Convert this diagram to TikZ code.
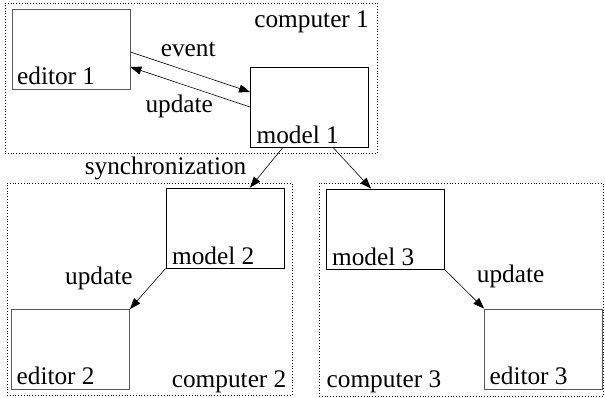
\documentclass[tikz,border=0pt]{standalone}
\usepackage{fontspec}
\setmainfont{Liberation Serif}
\usetikzlibrary{arrows.meta, positioning}

\begin{document}
\begin{tikzpicture}[x=1pt, y=-1pt, >={Triangle[length=11pt, width=8pt]},
        every node/.style={font=\fontsize{25.3}{30}\selectfont},
        editor/.style={rectangle, draw=black!65, line width=0.8pt, minimum width=118pt, minimum height=80pt,
            label={[anchor=base west, xshift=2pt, yshift=5pt]south west:#1}},
        model/.style={rectangle, draw, line width=0.8pt, minimum width=118pt, minimum height=80pt,
            label={[anchor=base west, xshift=3pt, yshift=4pt]south west:#1}},
        computer/.style={rectangle, draw, dotted, line width=0.8pt, inner sep=0pt},
        link/.style={->, line width=0.6pt}]

    \useasboundingbox (0,0) rectangle (605,398);

    % Computers (dotted frames)
    \node (comp1) [computer, minimum width=372pt, minimum height=150pt,
        label={[anchor=base east, xshift=-5pt, yshift=-25pt]north east:computer 1}] at (191,78) {};
    \node (comp2) [computer, minimum width=285pt, minimum height=212pt,
        label={[anchor=base east, xshift=-2.5pt, yshift=8pt]south east:computer 2}] at (149.5,289) {};
    \node (comp3) [computer, minimum width=284pt, minimum height=213pt,
        label={[anchor=base west, xshift=4.5pt, yshift=9pt]south west:computer 3}] at (461,289.5) {};

    % Editors and models
    \node (ed1) [editor=editor 1] at (71,49) {};
    \node (mod1) [model=model 1] at (309.5,107) {};
    \node (mod2) [model=model 2] at (225,228) {};
    \node (ed2) [editor=editor 2] at (70.5,349.5) {};
    \node (mod3) [model=model 3] at (385,229) {};
    \node (ed3) [editor=editor 3] at (543.5,349) {};

    % Inside computer 1
    \draw [link] ([yshift=-3pt]ed1.east) -- ([yshift=15pt]mod1.west)
        node[midway, anchor=base, xshift=-2pt, yshift=15pt] {event};
    \draw [link] (mod1.west) -- ([yshift=-18pt]ed1.east)
        node[midway, anchor=base, xshift=-11pt, yshift=-26pt] {update};

    % Synchronization between the models
    \draw [link] ([xshift=-26.5pt]mod1.south) -- ([xshift=25pt]mod2.north)
        node[midway, anchor=base east, xshift=-16.5pt, yshift=-7.5pt] {synchronization};
    \draw [link] ([xshift=23.5pt]mod1.south) -- ([xshift=-14pt]mod3.north);

    % Updates of the remote editors
    \draw [link] (mod2.south west) -- (ed2.north east)
        node[midway, anchor=base east, xshift=-11.5pt, yshift=4pt] {update};
    \draw [link] (mod3.south east) -- (ed3.north west)
        node[midway, anchor=base west, xshift=9pt, yshift=7pt] {update};

\end{tikzpicture}
\end{document}
